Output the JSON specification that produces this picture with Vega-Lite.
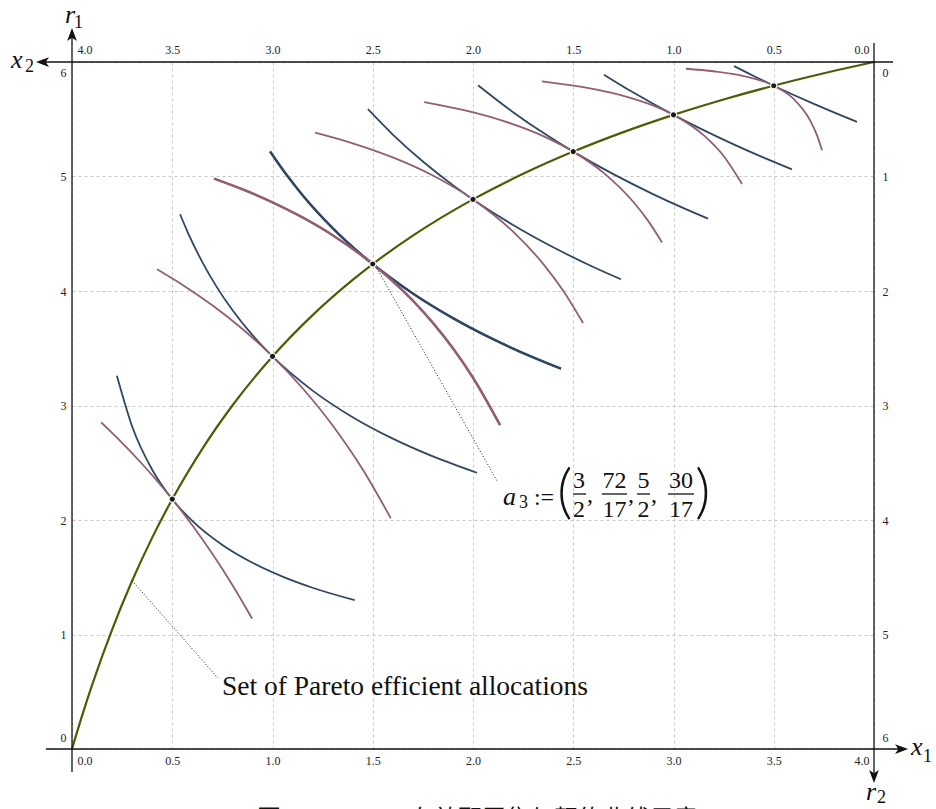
{
  "$schema": "https://vega.github.io/schema/vega-lite/v6.json",
  "width": 802,
  "height": 687,
  "autosize": {"type": "none"},
  "padding": {"left": 72, "top": 62, "right": 62, "bottom": 60},
  "background": "white",
  "config": {
    "view": {"stroke": null},
    "axis": {"labelFont": "Liberation Serif", "labelFontSize": 12, "labelColor": "#222", "domain": false, "ticks": false, "gridColor": "#c8c8c8", "gridDash": [3, 3], "gridWidth": 1, "labelFlushOffset": -5}
  },
  "datasets": {
    "curves": [
      {"c": 1, "a": "u1", "x": 0.224, "y": 3.2597}, {"c": 1, "a": "u1", "x": 0.3, "y": 2.8168}, {"c": 1, "a": "u1", "x": 0.4, "y": 2.4393}, {"c": 1, "a": "u1", "x": 0.5, "y": 2.1818}, {"c": 1, "a": "u1", "x": 0.6, "y": 1.9917}, {"c": 1, "a": "u1", "x": 0.75, "y": 1.7815}, {"c": 1, "a": "u1", "x": 0.9, "y": 1.6263}, {"c": 1, "a": "u1", "x": 1.05, "y": 1.5056}, {"c": 1, "a": "u1", "x": 1.2, "y": 1.4084}, {"c": 1, "a": "u1", "x": 1.41, "y": 1.2993},
      {"c": 1, "a": "u2", "x": 0.145, "y": 2.8526}, {"c": 1, "a": "u2", "x": 0.25, "y": 2.6739}, {"c": 1, "a": "u2", "x": 0.35, "y": 2.4892}, {"c": 1, "a": "u2", "x": 0.45, "y": 2.2885}, {"c": 1, "a": "u2", "x": 0.5, "y": 2.1818}, {"c": 1, "a": "u2", "x": 0.6, "y": 1.9539}, {"c": 1, "a": "u2", "x": 0.7, "y": 1.705}, {"c": 1, "a": "u2", "x": 0.8, "y": 1.4323}, {"c": 1, "a": "u2", "x": 0.898, "y": 1.1391},
      {"c": 2, "a": "u1", "x": 0.539, "y": 4.6701}, {"c": 2, "a": "u1", "x": 0.58, "y": 4.5019}, {"c": 2, "a": "u1", "x": 0.65, "y": 4.2526}, {"c": 2, "a": "u1", "x": 0.72, "y": 4.0406}, {"c": 2, "a": "u1", "x": 0.8, "y": 3.8333}, {"c": 2, "a": "u1", "x": 0.9, "y": 3.6141}, {"c": 2, "a": "u1", "x": 1.0, "y": 3.4286}, {"c": 2, "a": "u1", "x": 1.2, "y": 3.1299}, {"c": 2, "a": "u1", "x": 1.4, "y": 2.8977}, {"c": 2, "a": "u1", "x": 1.6, "y": 2.7105}, {"c": 2, "a": "u1", "x": 1.8, "y": 2.5555}, {"c": 2, "a": "u1", "x": 2.02, "y": 2.4124},
      {"c": 2, "a": "u2", "x": 0.424, "y": 4.1902}, {"c": 2, "a": "u2", "x": 0.55, "y": 4.0556}, {"c": 2, "a": "u2", "x": 0.7, "y": 3.8748}, {"c": 2, "a": "u2", "x": 0.85, "y": 3.6676}, {"c": 2, "a": "u2", "x": 1.0, "y": 3.4286}, {"c": 2, "a": "u2", "x": 1.15, "y": 3.1507}, {"c": 2, "a": "u2", "x": 1.3, "y": 2.8254}, {"c": 2, "a": "u2", "x": 1.45, "y": 2.4409}, {"c": 2, "a": "u2", "x": 1.59, "y": 2.0154},
      {"c": 3, "a": "u1", "x": 0.988, "y": 5.2185}, {"c": 3, "a": "u1", "x": 1.07, "y": 5.0146}, {"c": 3, "a": "u1", "x": 1.15, "y": 4.8369}, {"c": 3, "a": "u1", "x": 1.3, "y": 4.5493}, {"c": 3, "a": "u1", "x": 1.5, "y": 4.2353}, {"c": 3, "a": "u1", "x": 1.7, "y": 3.9783}, {"c": 3, "a": "u1", "x": 1.9, "y": 3.7631}, {"c": 3, "a": "u1", "x": 2.1, "y": 3.5794}, {"c": 3, "a": "u1", "x": 2.3, "y": 3.4203}, {"c": 3, "a": "u1", "x": 2.439, "y": 3.3214},
      {"c": 3, "a": "u2", "x": 0.708, "y": 4.9823}, {"c": 3, "a": "u2", "x": 0.85, "y": 4.8885}, {"c": 3, "a": "u2", "x": 1.0, "y": 4.7746}, {"c": 3, "a": "u2", "x": 1.15, "y": 4.6422}, {"c": 3, "a": "u2", "x": 1.3, "y": 4.4871}, {"c": 3, "a": "u2", "x": 1.5, "y": 4.2353}, {"c": 3, "a": "u2", "x": 1.7, "y": 3.9151}, {"c": 3, "a": "u2", "x": 1.8, "y": 3.7213}, {"c": 3, "a": "u2", "x": 1.9, "y": 3.4991}, {"c": 3, "a": "u2", "x": 2.0, "y": 3.2427}, {"c": 3, "a": "u2", "x": 2.135, "y": 2.8291},
      {"c": 4, "a": "u1", "x": 1.476, "y": 5.5874}, {"c": 4, "a": "u1", "x": 1.6, "y": 5.3665}, {"c": 4, "a": "u1", "x": 1.75, "y": 5.1314}, {"c": 4, "a": "u1", "x": 1.9, "y": 4.9247}, {"c": 4, "a": "u1", "x": 2.0, "y": 4.8}, {"c": 4, "a": "u1", "x": 2.2, "y": 4.5766}, {"c": 4, "a": "u1", "x": 2.4, "y": 4.3818}, {"c": 4, "a": "u1", "x": 2.6, "y": 4.2099}, {"c": 4, "a": "u1", "x": 2.738, "y": 4.1024},
      {"c": 4, "a": "u2", "x": 1.212, "y": 5.3825}, {"c": 4, "a": "u2", "x": 1.4, "y": 5.2899}, {"c": 4, "a": "u2", "x": 1.6, "y": 5.1667}, {"c": 4, "a": "u2", "x": 1.8, "y": 5.0083}, {"c": 4, "a": "u2", "x": 2.0, "y": 4.8}, {"c": 4, "a": "u2", "x": 2.2, "y": 4.5185}, {"c": 4, "a": "u2", "x": 2.35, "y": 4.2369}, {"c": 4, "a": "u2", "x": 2.45, "y": 4.0021}, {"c": 4, "a": "u2", "x": 2.549, "y": 3.7201},
      {"c": 5, "a": "u1", "x": 2.025, "y": 5.7971}, {"c": 5, "a": "u1", "x": 2.2, "y": 5.5617}, {"c": 5, "a": "u1", "x": 2.35, "y": 5.3813}, {"c": 5, "a": "u1", "x": 2.5, "y": 5.2174}, {"c": 5, "a": "u1", "x": 2.7, "y": 5.0204}, {"c": 5, "a": "u1", "x": 2.9, "y": 4.8442}, {"c": 5, "a": "u1", "x": 3.05, "y": 4.7236}, {"c": 5, "a": "u1", "x": 3.172, "y": 4.6319},
      {"c": 5, "a": "u2", "x": 1.756, "y": 5.6503}, {"c": 5, "a": "u2", "x": 1.95, "y": 5.581}, {"c": 5, "a": "u2", "x": 2.15, "y": 5.4855}, {"c": 5, "a": "u2", "x": 2.35, "y": 5.3532}, {"c": 5, "a": "u2", "x": 2.5, "y": 5.2174}, {"c": 5, "a": "u2", "x": 2.65, "y": 5.0338}, {"c": 5, "a": "u2", "x": 2.8, "y": 4.7772}, {"c": 5, "a": "u2", "x": 2.87, "y": 4.621}, {"c": 5, "a": "u2", "x": 2.943, "y": 4.4239},
      {"c": 6, "a": "u1", "x": 2.653, "y": 5.8895}, {"c": 6, "a": "u1", "x": 2.8, "y": 5.7328}, {"c": 6, "a": "u1", "x": 3.0, "y": 5.5385}, {"c": 6, "a": "u1", "x": 3.15, "y": 5.405}, {"c": 6, "a": "u1", "x": 3.3, "y": 5.2807}, {"c": 6, "a": "u1", "x": 3.45, "y": 5.1646}, {"c": 6, "a": "u1", "x": 3.591, "y": 5.0622},
      {"c": 6, "a": "u2", "x": 2.344, "y": 5.8317}, {"c": 6, "a": "u2", "x": 2.55, "y": 5.7805}, {"c": 6, "a": "u2", "x": 2.75, "y": 5.7046}, {"c": 6, "a": "u2", "x": 2.9, "y": 5.6186}, {"c": 6, "a": "u2", "x": 3.0, "y": 5.5385}, {"c": 6, "a": "u2", "x": 3.15, "y": 5.3612}, {"c": 6, "a": "u2", "x": 3.25, "y": 5.1795}, {"c": 6, "a": "u2", "x": 3.342, "y": 4.934},
      {"c": 7, "a": "u1", "x": 3.302, "y": 5.9643}, {"c": 7, "a": "u1", "x": 3.4, "y": 5.8777}, {"c": 7, "a": "u1", "x": 3.5, "y": 5.7931}, {"c": 7, "a": "u1", "x": 3.6, "y": 5.7122}, {"c": 7, "a": "u1", "x": 3.7, "y": 5.6344}, {"c": 7, "a": "u1", "x": 3.8, "y": 5.5598}, {"c": 7, "a": "u1", "x": 3.915, "y": 5.4775},
      {"c": 7, "a": "u2", "x": 3.062, "y": 5.9412}, {"c": 7, "a": "u2", "x": 3.2, "y": 5.9192}, {"c": 7, "a": "u2", "x": 3.35, "y": 5.8776}, {"c": 7, "a": "u2", "x": 3.5, "y": 5.7931}, {"c": 7, "a": "u2", "x": 3.6, "y": 5.6767}, {"c": 7, "a": "u2", "x": 3.68, "y": 5.4949}, {"c": 7, "a": "u2", "x": 3.715, "y": 5.3632}, {"c": 7, "a": "u2", "x": 3.741, "y": 5.2289}
    ],
    "contract": [
      {"x": 0, "y": 0}, {"x": 0.05, "y": 0.28916}, {"x": 0.1, "y": 0.55814}, {"x": 0.2, "y": 1.04348}, {"x": 0.3, "y": 1.46939}, {"x": 0.4, "y": 1.84615}, {"x": 0.5, "y": 2.18182}, {"x": 0.65, "y": 2.62185}, {"x": 0.8, "y": 3.0}, {"x": 1.0, "y": 3.42857}, {"x": 1.2, "y": 3.78947}, {"x": 1.4, "y": 4.09756}, {"x": 1.5, "y": 4.23529}, {"x": 1.7, "y": 4.48352}, {"x": 2.0, "y": 4.8}, {"x": 2.25, "y": 5.02326}, {"x": 2.5, "y": 5.21739}, {"x": 2.75, "y": 5.38776}, {"x": 3.0, "y": 5.53846}, {"x": 3.25, "y": 5.67273}, {"x": 3.5, "y": 5.7931}, {"x": 3.75, "y": 5.90164}, {"x": 4.0, "y": 6.0}
    ],
    "dots": [
      {"x": 0.5, "y": 2.18182}, {"x": 1.0, "y": 3.42857}, {"x": 1.5, "y": 4.23529}, {"x": 2.0, "y": 4.8}, {"x": 2.5, "y": 5.21739}, {"x": 3.0, "y": 5.53846}, {"x": 3.5, "y": 5.7931}
    ],
    "frame": [
      {"x": -0.13, "x2": 4.14, "y": 0, "y2": 0},
      {"x": -0.14, "x2": 4.095, "y": 6, "y2": 6},
      {"x": 0, "x2": 0, "y": -0.2, "y2": 6.25},
      {"x": 4, "x2": 4, "y": 6.166, "y2": -0.26}
    ],
    "arrows": [
      {"x": 4.17, "y": 0, "dir": "right"},
      {"x": 0, "y": 6.297, "dir": "up"},
      {"x": -0.1796, "y": 6, "dir": "left"},
      {"x": 4, "y": -0.297, "dir": "down"}
    ],
    "leaders": [
      {"x": 0.3, "y": 1.469, "x2": 0.728, "y2": 0.62},
      {"x": 1.52, "y": 4.2, "x2": 2.12, "y2": 2.341}
    ],
    "italic": [
      {"t": "x", "x": 4.185, "y": -0.052},
      {"t": "r", "x": -0.035, "y": 6.341},
      {"t": "x", "x": -0.304, "y": 5.948},
      {"t": "r", "x": 3.96, "y": -0.445},
      {"t": "a", "x": 2.15, "y": 2.131}
    ],
    "subs": [
      {"t": "1", "x": 4.244, "y": -0.114},
      {"t": "1", "x": 0.01, "y": 6.297},
      {"t": "2", "x": -0.234, "y": 5.913},
      {"t": "2", "x": 4.015, "y": -0.472},
      {"t": "3", "x": 2.229, "y": 2.105}
    ],
    "ops": [
      {"t": ":=", "x": 2.304, "y": 2.131},
      {"t": ",", "x": 2.569, "y": 2.157},
      {"t": ",", "x": 2.773, "y": 2.157},
      {"t": ",", "x": 2.888, "y": 2.157}
    ],
    "fracs": [
      {"t": "3", "x": 2.529, "y": 2.279}, {"t": "2", "x": 2.529, "y": 2.026},
      {"t": "72", "x": 2.706, "y": 2.279}, {"t": "17", "x": 2.706, "y": 2.026},
      {"t": "5", "x": 2.85, "y": 2.279}, {"t": "2", "x": 2.85, "y": 2.026},
      {"t": "30", "x": 3.037, "y": 2.279}, {"t": "17", "x": 3.037, "y": 2.026}
    ],
    "bars": [
      {"x": 2.499, "x2": 2.564, "y": 2.227},
      {"x": 2.643, "x2": 2.768, "y": 2.227},
      {"x": 2.818, "x2": 2.883, "y": 2.227},
      {"x": 2.973, "x2": 3.102, "y": 2.227}
    ],
    "parens": [
      {"t": "(", "x": 2.419, "y": 2.07},
      {"t": ")", "x": 3.107, "y": 2.07}
    ],
    "labels": [
      {"t": "Set of Pareto efficient allocations", "x": 0.748, "y": 0.4716}
    ],
    "caption": [
      {"t": "图 1.1: Pareto 有效配置集与契约曲线示意", "x": 0.923, "y": -0.685}
    ]
  },
  "layer": [
    {
      "data": {"name": "contract"},
      "mark": {"type": "line", "color": "#4f5c05", "strokeWidth": 2.2, "interpolate": "monotone"},
      "encoding": {
        "x": {"field": "x", "type": "quantitative", "scale": {"domain": [0, 4], "nice": false, "zero": false},
          "axis": {"orient": "bottom", "values": [0, 0.5, 1, 1.5, 2, 2.5, 3, 3.5, 4], "format": ".1f", "grid": true, "labelFlush": true, "labelPadding": 6, "title": null}},
        "y": {"field": "y", "type": "quantitative", "scale": {"domain": [0, 6], "nice": false, "zero": false},
          "axis": {"orient": "left", "values": [0, 1, 2, 3, 4, 5, 6], "format": "d", "grid": true, "labelFlush": true, "labelPadding": 6, "title": null}}
      }
    },
    {
      "data": {"name": "curves"},
      "mark": {"type": "line", "strokeWidth": 1.8, "interpolate": "monotone"},
      "encoding": {
        "x": {"field": "x", "type": "quantitative", "scale": {"domain": [0, 4], "nice": false, "zero": false}, "axis": null},
        "y": {"field": "y", "type": "quantitative", "scale": {"domain": [0, 6], "nice": false, "zero": false}, "axis": null},
        "color": {"field": "a", "type": "nominal", "scale": {"domain": ["u2", "u1"], "range": ["#915f71", "#2f4763"]}, "legend": null},
        "detail": {"field": "c", "type": "nominal"},
        "order": {"field": "x", "type": "quantitative"}
      }
    },
    {
      "data": {"name": "curves"},
      "transform": [{"filter": "datum.c == 3"}],
      "mark": {"type": "line", "strokeWidth": 2.5, "interpolate": "monotone"},
      "encoding": {
        "x": {"field": "x", "type": "quantitative", "scale": {"domain": [0, 4], "nice": false, "zero": false}, "axis": null},
        "y": {"field": "y", "type": "quantitative", "scale": {"domain": [0, 6], "nice": false, "zero": false}, "axis": null},
        "color": {"field": "a", "type": "nominal", "scale": {"domain": ["u2", "u1"], "range": ["#915f71", "#2f4763"]}, "legend": null},
        "detail": {"field": "c", "type": "nominal"},
        "order": {"field": "x", "type": "quantitative"}
      }
    },
    {
      "data": {"name": "frame"},
      "mark": {"type": "rule", "color": "#111", "strokeWidth": 1.3},
      "encoding": {
        "x": {"field": "x", "type": "quantitative", "scale": {"domain": [0, 4], "nice": false, "zero": false}, "axis": null},
        "x2": {"field": "x2"},
        "y": {"field": "y", "type": "quantitative", "scale": {"domain": [0, 6], "nice": false, "zero": false}, "axis": null},
        "y2": {"field": "y2"}
      }
    },
    {
      "data": {"name": "arrows"},
      "mark": {"type": "point", "filled": true, "color": "#111", "opacity": 1, "size": 169, "strokeWidth": 0},
      "encoding": {
        "x": {"field": "x", "type": "quantitative", "scale": {"domain": [0, 4], "nice": false, "zero": false}, "axis": null},
        "y": {"field": "y", "type": "quantitative", "scale": {"domain": [0, 6], "nice": false, "zero": false}, "axis": null},
        "shape": {"field": "dir", "type": "nominal", "legend": null,
          "scale": {"domain": ["right", "up", "left", "down"], "range": ["M0,0L-2,-0.75L-1.5,0L-2,0.75Z", "M0,0L-0.75,2L0,1.5L0.75,2Z", "M0,0L2,-0.75L1.5,0L2,0.75Z", "M0,0L-0.75,-2L0,-1.5L0.75,-2Z"]}}
      }
    },
    {
      "data": {"name": "leaders"},
      "mark": {"type": "rule", "color": "#111", "strokeWidth": 1, "strokeDash": [1, 2]},
      "encoding": {
        "x": {"field": "x", "type": "quantitative", "scale": {"domain": [0, 4], "nice": false, "zero": false}, "axis": null},
        "x2": {"field": "x2"},
        "y": {"field": "y", "type": "quantitative", "scale": {"domain": [0, 6], "nice": false, "zero": false}, "axis": null},
        "y2": {"field": "y2"}
      }
    },
    {
      "data": {"name": "dots"},
      "mark": {"type": "point", "filled": true, "color": "#1a1a1a", "opacity": 1, "size": 40, "stroke": "white", "strokeWidth": 1.2},
      "encoding": {
        "x": {"field": "x", "type": "quantitative", "scale": {"domain": [0, 4], "nice": false, "zero": false},
          "axis": {"orient": "top", "values": [0, 0.5, 1, 1.5, 2, 2.5, 3, 3.5, 4], "labelExpr": "format(4 - datum.value, '.1f')", "grid": false, "labelFlush": true, "labelPadding": 6, "title": null}},
        "y": {"field": "y", "type": "quantitative", "scale": {"domain": [0, 6], "nice": false, "zero": false},
          "axis": {"orient": "right", "values": [0, 1, 2, 3, 4, 5, 6], "labelExpr": "format(6 - datum.value, 'd')", "grid": false, "labelFlush": true, "labelPadding": 8, "title": null}}
      }
    },
    {
      "data": {"name": "italic"},
      "mark": {"type": "text", "font": "Liberation Serif", "fontSize": 26, "fontStyle": "italic", "align": "left", "baseline": "alphabetic", "color": "#111"},
      "encoding": {
        "x": {"field": "x", "type": "quantitative", "scale": {"domain": [0, 4], "nice": false, "zero": false}, "axis": null},
        "y": {"field": "y", "type": "quantitative", "scale": {"domain": [0, 6], "nice": false, "zero": false}, "axis": null},
        "text": {"field": "t"}
      }
    },
    {
      "data": {"name": "subs"},
      "mark": {"type": "text", "font": "Liberation Serif", "fontSize": 18, "align": "left", "baseline": "alphabetic", "color": "#111"},
      "encoding": {
        "x": {"field": "x", "type": "quantitative", "scale": {"domain": [0, 4], "nice": false, "zero": false}, "axis": null},
        "y": {"field": "y", "type": "quantitative", "scale": {"domain": [0, 6], "nice": false, "zero": false}, "axis": null},
        "text": {"field": "t"}
      }
    },
    {
      "data": {"name": "ops"},
      "mark": {"type": "text", "font": "Liberation Serif", "fontSize": 24, "align": "left", "baseline": "alphabetic", "color": "#111"},
      "encoding": {
        "x": {"field": "x", "type": "quantitative", "scale": {"domain": [0, 4], "nice": false, "zero": false}, "axis": null},
        "y": {"field": "y", "type": "quantitative", "scale": {"domain": [0, 6], "nice": false, "zero": false}, "axis": null},
        "text": {"field": "t"}
      }
    },
    {
      "data": {"name": "fracs"},
      "mark": {"type": "text", "font": "Liberation Serif", "fontSize": 24, "align": "center", "baseline": "alphabetic", "color": "#111"},
      "encoding": {
        "x": {"field": "x", "type": "quantitative", "scale": {"domain": [0, 4], "nice": false, "zero": false}, "axis": null},
        "y": {"field": "y", "type": "quantitative", "scale": {"domain": [0, 6], "nice": false, "zero": false}, "axis": null},
        "text": {"field": "t"}
      }
    },
    {
      "data": {"name": "bars"},
      "mark": {"type": "rule", "color": "#111", "strokeWidth": 1.3},
      "encoding": {
        "x": {"field": "x", "type": "quantitative", "scale": {"domain": [0, 4], "nice": false, "zero": false}, "axis": null},
        "x2": {"field": "x2"},
        "y": {"field": "y", "type": "quantitative", "scale": {"domain": [0, 6], "nice": false, "zero": false}, "axis": null}
      }
    },
    {
      "data": {"name": "parens"},
      "mark": {"type": "text", "font": "Lato", "fontWeight": 300, "fontSize": 60, "align": "left", "baseline": "alphabetic", "color": "#111"},
      "encoding": {
        "x": {"field": "x", "type": "quantitative", "scale": {"domain": [0, 4], "nice": false, "zero": false}, "axis": null},
        "y": {"field": "y", "type": "quantitative", "scale": {"domain": [0, 6], "nice": false, "zero": false}, "axis": null},
        "text": {"field": "t"}
      }
    },
    {
      "data": {"name": "labels"},
      "mark": {"type": "text", "font": "Liberation Serif", "fontSize": 27.5, "align": "left", "baseline": "alphabetic", "color": "#111"},
      "encoding": {
        "x": {"field": "x", "type": "quantitative", "scale": {"domain": [0, 4], "nice": false, "zero": false}, "axis": null},
        "y": {"field": "y", "type": "quantitative", "scale": {"domain": [0, 6], "nice": false, "zero": false}, "axis": null},
        "text": {"field": "t"}
      }
    },
    {
      "data": {"name": "caption"},
      "mark": {"type": "text", "font": "Noto Sans CJK SC", "fontSize": 24, "align": "left", "baseline": "alphabetic", "color": "#111"},
      "encoding": {
        "x": {"field": "x", "type": "quantitative", "scale": {"domain": [0, 4], "nice": false, "zero": false}, "axis": null},
        "y": {"field": "y", "type": "quantitative", "scale": {"domain": [0, 6], "nice": false, "zero": false}, "axis": null},
        "text": {"field": "t"}
      }
    }
  ],
  "resolve": {"axis": {"x": "independent", "y": "independent"}}
}
